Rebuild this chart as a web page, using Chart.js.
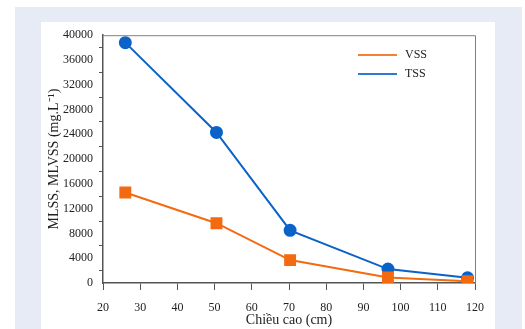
<!DOCTYPE html>
<html>
<head>
<meta charset="utf-8">
<script src="https://cdn.jsdelivr.net/npm/chart.js@4/dist/chart.umd.min.js"></script>
<style>
  html, body { margin: 0; padding: 0; background: #ffffff; }
  #outer { position: absolute; left: 15px; top: 7px; width: 507px; height: 322px; background: #e6ebf5; }
  #inner { position: absolute; left: 41px; top: 22px; width: 454px; height: 307px; background: #ffffff; }
  canvas { display: block; }
</style>
</head>
<body>
<div id="outer"></div>
<div id="inner"><canvas id="c" width="454" height="307"></canvas></div>
<script>
const heights = [26, 50.5, 70.3, 96.6, 118];
const vssValues = [14600, 9650, 3700, 900, 300];
const tssValues = [38800, 24300, 8500, 2250, 850];
const seriesNames = ['VSS', 'TSS'];
const xTitle = 'Chiều cao (cm)';
const yTitle = 'MLSS, MLVSS (mg.L\u207B\u00B9)';

const FONT = "'Liberation Serif', 'Times New Roman', serif";
const ORANGE = '#f36a10';
const BLUE = '#0b62c8';

const frameAndLegend = {
  id: 'frameAndLegend',
  afterDatasetsDraw(chart) {
    const { ctx, chartArea: a } = chart;
    ctx.save();
    ctx.strokeStyle = '#808080';
    ctx.lineWidth = 1;
    ctx.beginPath();
    ctx.moveTo(a.left, a.top + 0.5);
    ctx.lineTo(a.right + 0.5, a.top + 0.5);
    ctx.lineTo(a.right + 0.5, a.bottom);
    ctx.stroke();
    // legend
    const lx = 317, ly = [33, 52];
    chart.data.datasets.forEach((ds, i) => {
      ctx.strokeStyle = ds.borderColor;
      ctx.globalAlpha = 0.85;
      ctx.lineWidth = 2;
      ctx.beginPath();
      ctx.moveTo(lx, ly[i]);
      ctx.lineTo(lx + 39, ly[i]);
      ctx.stroke();
      ctx.globalAlpha = 1;
      ctx.fillStyle = '#222';
      ctx.font = '12px ' + FONT;
      ctx.textBaseline = 'middle';
      ctx.fillText(ds.label, lx + 47, ly[i]);
    });
    ctx.restore();
  }
};

new Chart(document.getElementById('c'), {
  type: 'line',
  data: {
    datasets: [
      {
        label: seriesNames[0],
        data: heights.map((h, i) => ({ x: h, y: vssValues[i] })),
        borderColor: ORANGE,
        backgroundColor: ORANGE,
        borderWidth: 2,
        pointStyle: 'rect',
        pointRadius: 7,
        pointHoverRadius: 7,
        tension: 0
      },
      {
        label: seriesNames[1],
        data: heights.map((h, i) => ({ x: h, y: tssValues[i] })),
        borderColor: BLUE,
        backgroundColor: BLUE,
        borderWidth: 2,
        pointStyle: 'circle',
        pointRadius: 5.5,
        pointHoverRadius: 5.5,
        tension: 0
      }
    ]
  },
  options: {
    responsive: false,
    animation: false,
    layout: { padding: { top: 10, right: 16, left: 0, bottom: 0 } },
    plugins: { legend: { display: false }, tooltip: { enabled: false } },
    scales: {
      x: {
        type: 'linear',
        min: 20, max: 120,
        ticks: { stepSize: 10, color: '#222', font: { family: FONT, size: 12 }, padding: 11 },
        grid: { drawOnChartArea: false, drawTicks: true, tickLength: 7, color: '#555' },
        border: { display: true, color: '#555', width: 1.5 },
        title: { display: true, text: xTitle, color: '#222', font: { family: FONT, size: 14 }, padding: { top: 2, bottom: 0 } },
        afterFit(s) { s.height = 46; }
      },
      y: {
        min: 0, max: 40000,
        ticks: {
          stepSize: 2000,
          autoSkip: false,
          color: '#222',
          font: { family: FONT, size: 12 },
          padding: 6,
          callback: (v) => (v % 4000 === 0 ? String(v) : '')
        },
        grid: {
          drawOnChartArea: false,
          drawTicks: true,
          tickLength: 4,
          color: (c) => (c.tick && c.tick.value % 4000 === 0 ? 'rgba(0,0,0,0)' : '#555')
        },
        border: { display: true, color: '#555', width: 1.5 },
        title: { display: true, text: yTitle, color: '#222', font: { family: FONT, size: 14 }, padding: { top: 5, bottom: 0 } },
        afterFit(s) { s.width = 62; }
      }
    }
  },
  plugins: [frameAndLegend]
});
</script>
</body>
</html>
